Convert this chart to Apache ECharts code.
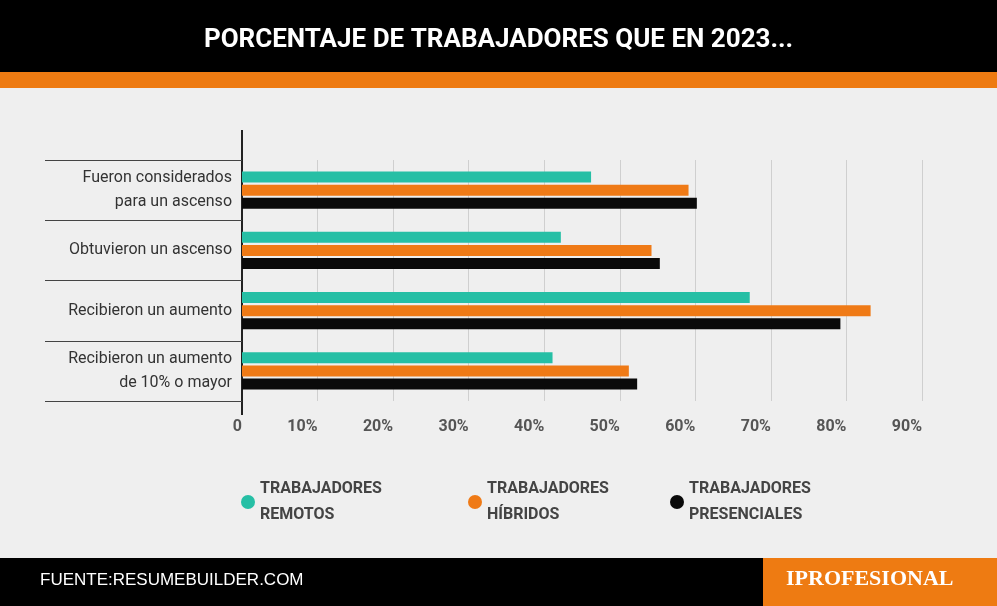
<!DOCTYPE html><html><head><meta charset="utf-8">
<script src="https://cdn.jsdelivr.net/npm/echarts@6/dist/echarts.min.js"></script>
<style>html,body{margin:0;padding:0;background:#efefef}#c{width:997px;height:606px}</style></head><body><div id="c"></div>
<script>
const categories=["Fueron considerados\npara un ascenso","Obtuvieron un ascenso","Recibieron un aumento","Recibieron un aumento\nde 10% o mayor"];
const remotos=[46.2,42.2,67.2,41.1];
const hibridos=[59.1,54.2,83.2,51.2];
const presenciales=[60.2,55.3,79.2,52.3];
const seriesNames=["TRABAJADORES\nREMOTOS","TRABAJADORES\nHÍBRIDOS","TRABAJADORES\nPRESENCIALES"];
const colors=["#26bfa5","#ef7a16","#0a0a0a"];
const chart=echarts.init(document.getElementById('c'));
const mk=(name,data,c)=>({name,type:'bar',data,barWidth:11,barGap:'20%',itemStyle:{color:c},silent:true});
const leg=(i,left)=>({data:[seriesNames[i]],left,top:471,icon:'circle',itemWidth:14,itemHeight:14,itemGap:8,
 textStyle:{fontFamily:'Roboto',fontWeight:'bold',fontSize:16,color:'#444',lineHeight:26},selectedMode:false});
chart.setOption({
 backgroundColor:'#efefef',animation:false,
 title:{text:'PORCENTAJE DE TRABAJADORES QUE EN 2023...',left:'center',top:22,textStyle:{color:'#fff',fontFamily:'Roboto',fontWeight:'bold',fontSize:26}},
 legend:[leg(0,236),leg(1,463),leg(2,665)],
 grid:{left:242,right:75,top:160,bottom:205,containLabel:false},
 xAxis:{type:'value',min:0,max:90,interval:10,
  axisLabel:{formatter:v=>v===0?'0':v+'%',align:'right',margin:18,fontFamily:'Roboto',fontWeight:'bold',fontSize:16,color:'#555'},
  splitLine:{lineStyle:{color:'#cfcfcf',width:1}},axisLine:{show:false},axisTick:{show:false}},
 yAxis:{type:'category',data:categories,inverse:true,
  axisLine:{lineStyle:{color:'#222',width:2}},
  axisTick:{show:true,length:197,lineStyle:{color:'#444',width:1}},
  axisLabel:{margin:10,fontFamily:'Roboto',fontSize:16,color:'#333',lineHeight:24,align:'right'}},
 graphic:[
  {type:'rect',shape:{x:0,y:0,width:997,height:72},style:{fill:'#000'},z:-1},
  {type:'rect',shape:{x:0,y:72,width:997,height:16},style:{fill:'#ee7b12'},z:-1},
  {type:'line',shape:{x1:242,y1:130,x2:242,y2:415},style:{stroke:'#222',lineWidth:2}},
  {type:'rect',shape:{x:0,y:558,width:997,height:48},style:{fill:'#000'}},
  {type:'rect',shape:{x:763,y:558,width:234,height:48},style:{fill:'#ee7b12'}},
  {type:'text',left:40,top:572,style:{text:'FUENTE:RESUMEBUILDER.COM',fill:'#fff',font:'17px "Liberation Sans"'}},
  {type:'text',left:786,top:568,style:{text:'IPROFESIONAL',fill:'#fff',font:'bold 22px "Liberation Serif"'}}
 ],
 series:[mk(seriesNames[0],remotos,colors[0]),mk(seriesNames[1],hibridos,colors[1]),mk(seriesNames[2],presenciales,colors[2])]
});
</script></body></html>
